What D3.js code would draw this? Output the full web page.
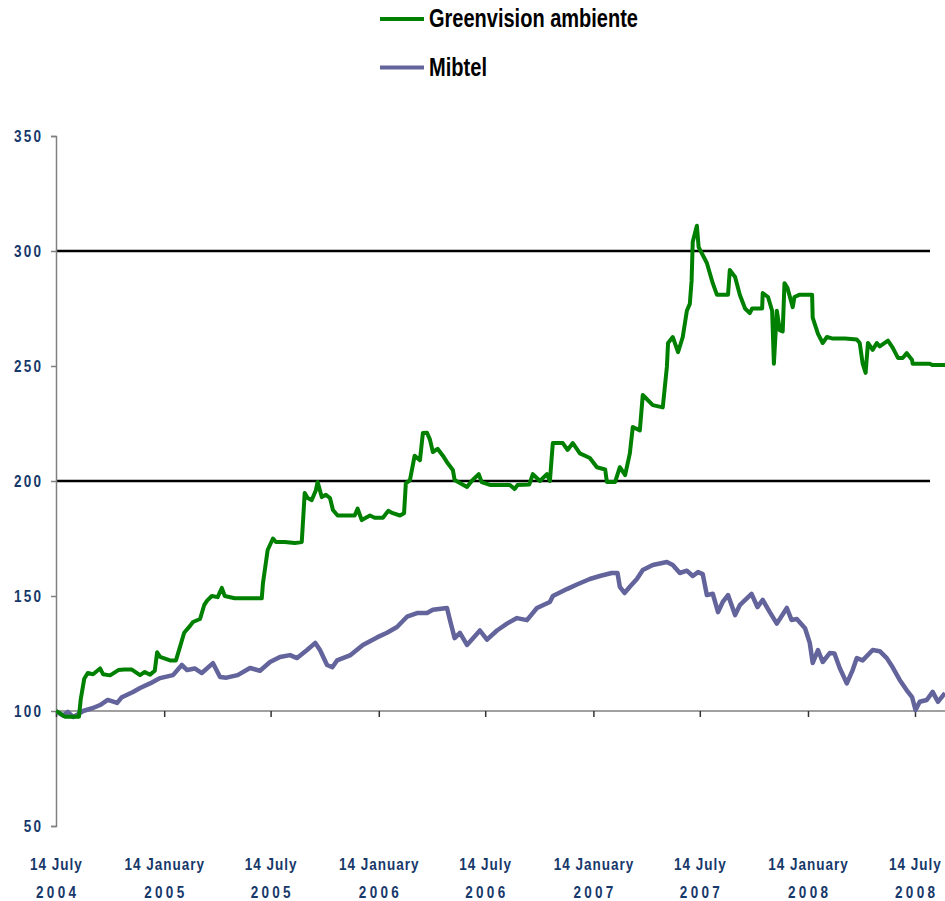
<!DOCTYPE html>
<html>
<head>
<meta charset="utf-8">
<script src="https://cdn.jsdelivr.net/npm/d3@7"></script>
<style>
  html, body { margin: 0; padding: 0; background: #fff; }
  svg { display: block; }
  .lbl { font-family: 'Liberation Sans', Arial, sans-serif; font-weight: bold; }
</style>
</head>
<body>
<svg id="chart" width="945" height="901"></svg>
<script>
// ---------------- DATA ----------------
const seriesNames = ["Greenvision ambiente", "Mibtel"];

const greenDates = [
 "2004-07-14","2004-07-21","2004-07-29","2004-08-07","2004-08-22","2004-08-25","2004-08-31","2004-09-06","2004-09-15","2004-09-27",
 "2004-10-02","2004-10-14","2004-10-28","2004-11-07","2004-11-20","2004-12-04","2004-12-12","2004-12-21","2004-12-29","2005-01-02",
 "2005-01-07","2005-01-24","2005-02-03","2005-02-10","2005-02-17","2005-02-27","2005-03-04","2005-03-16","2005-03-23","2005-03-28",
 "2005-04-05","2005-04-15","2005-04-22","2005-04-27","2005-05-14","2005-06-09","2005-06-29","2005-07-01","2005-07-04","2005-07-09",
 "2005-07-18","2005-07-23","2005-08-07","2005-08-24","2005-09-05","2005-09-10","2005-09-15","2005-09-22","2005-09-29","2005-10-02",
 "2005-10-09","2005-10-16","2005-10-23","2005-10-28","2005-11-05","2005-12-04","2005-12-09","2005-12-16","2005-12-30","2006-01-07",
 "2006-01-21","2006-01-30","2006-02-07","2006-02-19","2006-02-26","2006-03-01","2006-03-08","2006-03-16","2006-03-25","2006-03-30",
 "2006-04-06","2006-04-11","2006-04-16","2006-04-24","2006-05-03","2006-05-11","2006-05-20","2006-05-23","2006-06-13","2006-06-21",
 "2006-07-03","2006-07-08","2006-07-22","2006-08-08","2006-08-25","2006-09-02","2006-09-07","2006-09-27","2006-10-03","2006-10-15",
 "2006-10-27","2006-11-01","2006-11-06","2006-11-23","2006-12-01","2006-12-10","2006-12-22","2007-01-08","2007-01-20","2007-02-03",
 "2007-02-06","2007-02-20","2007-02-28","2007-03-09","2007-03-17","2007-03-22","2007-04-03","2007-04-08","2007-04-25","2007-05-12",
 "2007-05-19","2007-05-21","2007-05-29","2007-06-07","2007-06-15","2007-06-22","2007-06-27","2007-06-30","2007-07-02","2007-07-09",
 "2007-07-12","2007-07-26","2007-08-05","2007-08-12","2007-08-31","2007-09-03","2007-09-12","2007-09-20","2007-09-29","2007-10-07",
 "2007-10-11","2007-10-28","2007-10-29","2007-11-07","2007-11-14","2007-11-17","2007-11-22","2007-11-27","2007-12-02","2007-12-05",
 "2007-12-10","2007-12-19","2007-12-22","2007-12-31","2008-01-21","2008-01-22","2008-01-31","2008-02-08","2008-02-15","2008-02-24",
 "2008-03-17","2008-04-06","2008-04-11","2008-04-16","2008-04-21","2008-04-25","2008-05-03","2008-05-10","2008-05-15","2008-05-29",
 "2008-06-06","2008-06-15","2008-06-23","2008-06-30","2008-07-09","2008-07-10","2008-08-08","2008-08-13","2008-09-03"
];
const greenValues = [
 100,99,97.5,97.5,97.5,105,114,116.5,116,118.5,
 116,115.5,117.8,118,118,115.6,117,115.8,117.5,125.5,
 123.5,122,122,128,134,137,138.7,140,146,148,
 150,149.5,153.5,150,149,149,149,155.6,161,170,
 175,173.5,173.5,173,173.5,194.8,192.6,191.7,196,199.6,
 193,194,192.6,187.4,185,185,188,183,185,184,
 184,187,186,185,186,199,200.4,211,209,220.9,
 221,218,212.6,214,211,207.8,204.8,200.4,197.4,200,
 203,199.5,198.3,198.3,198.3,196.5,198.3,198.5,203,200,
 203,200,216.5,216.5,213.5,216.5,212,210,206,205,
 199.6,199.6,206,202.6,212,223.5,222,237.4,233,232,
 249.6,260,262.6,256,262.6,274,277,287,304,311,
 301.7,294.8,286,281,281,291.7,288.7,281,275,273,
 275,275,281.7,280,274,251,274,265.6,265,286,
 284,275.6,280,281,281,271,264,260,262.6,262,
 262,261.5,260,251,247,260,257,260,258.5,261,
 258,253.5,253.5,255.6,252.6,251,251,250.4,250.4
];

const mibtelDates = [
 "2004-07-14","2004-07-16","2004-07-26","2004-08-03","2004-08-12","2004-08-20","2004-08-29","2004-09-15","2004-09-27","2004-10-10",
 "2004-10-26","2004-11-03","2004-11-22","2004-12-04","2004-12-21","2005-01-07","2005-01-29","2005-02-13","2005-02-22","2005-03-07",
 "2005-03-19","2005-04-07","2005-04-19","2005-04-30","2005-05-19","2005-06-09","2005-06-26","2005-07-13","2005-07-30","2005-08-16",
 "2005-08-28","2005-09-14","2005-09-28","2005-10-06","2005-10-18","2005-10-27","2005-11-04","2005-11-27","2005-12-18","2006-01-11",
 "2006-01-28","2006-02-14","2006-03-03","2006-03-20","2006-04-06","2006-04-16","2006-05-10","2006-05-15","2006-05-23","2006-06-01",
 "2006-06-13","2006-07-05","2006-07-17","2006-08-03","2006-08-20","2006-09-06","2006-09-23","2006-10-10","2006-11-01","2006-11-06",
 "2006-11-30","2006-12-17","2007-01-08","2007-01-25","2007-02-14","2007-02-24","2007-02-28","2007-03-08","2007-03-17","2007-03-29",
 "2007-04-08","2007-04-25","2007-05-19","2007-05-29","2007-06-10","2007-06-22","2007-07-02","2007-07-11","2007-07-19","2007-07-26",
 "2007-08-05","2007-08-14","2007-08-22","2007-08-31","2007-09-12","2007-09-20","2007-10-10","2007-10-20","2007-10-29","2007-11-10",
 "2007-11-22","2007-12-09","2007-12-17","2007-12-26","2008-01-09","2008-01-17","2008-01-22","2008-01-31","2008-02-08","2008-02-20",
 "2008-02-28","2008-03-08","2008-03-20","2008-03-30","2008-04-06","2008-04-16","2008-05-03","2008-05-15","2008-05-27","2008-06-06",
 "2008-06-18","2008-06-30","2008-07-09","2008-07-15","2008-07-22","2008-08-03","2008-08-13","2008-08-22","2008-09-03"
];
const mibtelValues = [
 100,99.6,98,99.6,97.4,98.5,100,101.3,102.6,104.8,
 103.5,106,108.3,110,112,114.3,115.6,120,117.8,118.5,
 116.5,120.8,114.8,114.5,115.6,118.7,117.5,121.3,123.5,124.3,
 123,126.5,129.6,126.5,120,119,122,124.3,128.7,132,
 134,136.5,141,142.6,142.6,144,144.8,139.6,131.7,134,
 128.7,135,131,135,138,140.4,139.5,144.8,147.4,150,
 153,155,157.4,158.7,160,160,154,151.3,154,157.4,
 161.3,163.5,164.8,163.5,160,161,158.7,160.4,159.5,150.4,
 151,143,147.4,150.4,141.7,146,150.9,145.2,148.3,143,
 138,144.8,139.6,140,136,129.6,120.9,126.5,121.3,125.2,
 125,118.7,112,117.8,123,122,126.5,126,123,119,
 113.5,109,106,100.4,104,104.8,108.3,104,107.8
];

const yTickValues = [50, 100, 150, 200, 250, 300, 350];
const gridValues = [200, 300];
const xTickDates = ["2004-07-14","2005-01-14","2005-07-14","2006-01-14","2006-07-14","2007-01-14","2007-07-14","2008-01-14","2008-07-14"];
const xTickLine1 = ["14 July","14 January","14 July","14 January","14 July","14 January","14 July","14 January","14 July"];
const xTickLine2 = ["2004","2005","2005","2006","2006","2007","2007","2008","2008"];

// ---------------- CHART ----------------
const parse = d3.timeParse("%Y-%m-%d");
const svg = d3.select("#chart");
const labelColor = "#17386a";
const axisColor = "#808080";
const colors = ["#008000", "#64649c"];
const narrow = 0.82;

const x = d3.scaleTime()
  .domain([parse("2004-07-14"), parse("2008-07-14")])
  .range([56, 915]);
const y = d3.scaleLinear().domain([50, 350]).range([826, 136]);

const plotRight = 930;

svg.append("defs").append("clipPath").attr("id", "clip")
  .append("rect").attr("x", 56).attr("y", 100).attr("width", 945 - 56).attr("height", 740);

// gridlines
svg.append("g").selectAll("line").data(gridValues).join("line")
  .attr("x1", 56).attr("x2", plotRight)
  .attr("y1", d => y(d)).attr("y2", d => y(d))
  .attr("stroke", "#000").attr("stroke-width", 2.5);

// y axis
const yAxis = d3.axisLeft(y).tickValues(yTickValues).tickSize(5).tickFormat(d3.format("d"));
const gy = svg.append("g").attr("transform", "translate(56,0)").call(yAxis);
gy.select(".domain").attr("stroke", axisColor).attr("stroke-width", 1.5);
gy.selectAll(".tick line").attr("stroke", axisColor).attr("stroke-width", 1.5);
gy.selectAll(".tick text").remove();
const ylsp = 2.7;
svg.append("g").selectAll("text").data(yTickValues).join("text")
  .attr("class", "lbl")
  .attr("transform", d => `translate(41,${y(d)}) scale(${narrow},1)`)
  .attr("x", ylsp).attr("dy", "0.36em")
  .attr("text-anchor", "end")
  .attr("fill", labelColor)
  .style("font-size", "16.5px").style("letter-spacing", ylsp + "px")
  .text(d => d3.format("d")(d));

// x axis at value 100
const xAxis = d3.axisBottom(x).tickValues(xTickDates.map(parse)).tickSize(6).tickFormat("");
const gx = svg.append("g").attr("transform", `translate(0,${y(100)})`).call(xAxis);
gx.select(".domain").attr("d", `M56,0H945`).attr("stroke", axisColor).attr("stroke-width", 1.5);
gx.selectAll(".tick line").attr("stroke", "#333").attr("stroke-width", 1.5);

// x labels
const xl = svg.append("g");
const ls1 = 1.2, ls2 = 4;
xTickDates.forEach((ds, i) => {
  const cx = x(parse(ds));
  xl.append("text").attr("class", "lbl")
    .attr("transform", `translate(${cx},870) scale(${narrow},1)`)
    .attr("x", ls1 / 2).attr("text-anchor", "middle").attr("fill", labelColor)
    .style("font-size", "16.5px").style("letter-spacing", ls1 + "px")
    .text(xTickLine1[i]);
  xl.append("text").attr("class", "lbl")
    .attr("transform", `translate(${cx},898) scale(${narrow},1)`)
    .attr("x", ls2 / 2).attr("text-anchor", "middle").attr("fill", labelColor)
    .style("font-size", "16.5px").style("letter-spacing", ls2 + "px")
    .text(xTickLine2[i]);
});

// lines
const line = d3.line().x(d => x(d[0])).y(d => y(d[1]));
const greenData = greenDates.map((d, i) => [parse(d), greenValues[i]]);
const mibtelData = mibtelDates.map((d, i) => [parse(d), mibtelValues[i]]);
const lines = svg.append("g").attr("clip-path", "url(#clip)");
lines.append("path").datum(mibtelData).attr("d", line)
  .attr("fill", "none").attr("stroke", colors[1]).attr("stroke-width", 4.5).attr("stroke-linejoin", "round");
lines.append("path").datum(greenData).attr("d", line)
  .attr("fill", "none").attr("stroke", colors[0]).attr("stroke-width", 4).attr("stroke-linejoin", "round");

// legend
const legY = [19, 67.5];
const legW = [209, 58];
seriesNames.forEach((name, i) => {
  svg.append("line").attr("x1", 380).attr("x2", 424).attr("y1", legY[i]).attr("y2", legY[i])
    .attr("stroke", colors[i]).attr("stroke-width", 4);
  svg.append("text").attr("class", "lbl").attr("x", 429).attr("y", legY[i] + 8.3)
    .attr("fill", "#000").style("font-size", "25px")
    .attr("textLength", legW[i]).attr("lengthAdjust", "spacingAndGlyphs")
    .text(name);
});
</script>
</body>
</html>
